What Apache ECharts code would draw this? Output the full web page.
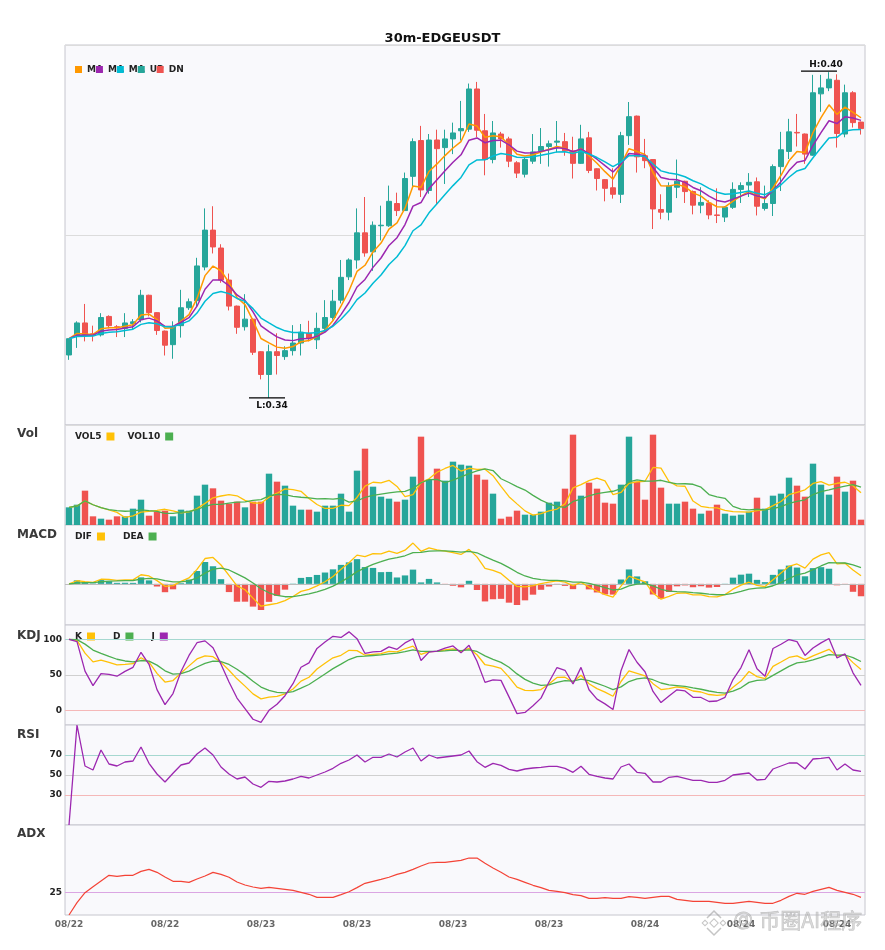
<!DOCTYPE html>
<html><head><meta charset="utf-8">
<script src="https://cdn.jsdelivr.net/npm/echarts@6/dist/echarts.min.js"></script>
<style>html,body{margin:0;padding:0;background:#fff}#c{width:885px;height:950px}</style>
</head><body><div id="c"></div>
<script>
// ---------- data ----------
const categories = (function(){
  const out=[]; const pad=n=>String(n).padStart(2,'0');
  let d=new Date(2024,7,22,14,0);
  for(let i=0;i<100;i++){ out.push(pad(d.getMonth()+1)+'/'+pad(d.getDate())+' '+pad(d.getHours())+':'+pad(d.getMinutes())); d=new Date(d.getTime()+30*60000); }
  return out;
})();
const opens = [0.3479,0.3516,0.3538,0.3518,0.3516,0.3550,0.3531,0.3528,0.3537,0.3544,
0.3589,0.3557,0.3523,0.3498,0.3533,0.3566,0.3579,0.3641,0.3709,0.3676,
0.3617,0.3569,0.3531,0.3545,0.3485,0.3443,0.3485,0.3476,0.3487,0.3501,
0.3519,0.3507,0.3528,0.3548,0.3580,0.3623,0.3654,0.3704,0.3669,0.3717,
0.3717,0.3758,0.3745,0.3808,0.3874,0.3782,0.3875,0.3861,0.3877,0.3892,
0.3895,0.3969,0.3892,0.3839,0.3886,0.3877,0.3833,0.3812,0.3836,0.3855,
0.3863,0.3871,0.3872,0.3855,0.3832,0.3879,0.3822,0.3802,0.3787,0.3775,
0.3883,0.3919,0.3846,0.3839,0.3747,0.3742,0.3788,0.3799,0.3780,0.3755,
0.3759,0.3737,0.3733,0.3751,0.3784,0.3792,0.3798,0.3749,0.3758,0.3826,
0.3854,0.3889,0.3886,0.3847,0.3960,0.3971,0.3985,0.3886,0.3962,0.3908];
const closes = [0.3509,0.3538,0.3516,0.3515,0.3548,0.3533,0.3529,0.3538,0.3540,0.3589,
0.3557,0.3524,0.3497,0.3531,0.3566,0.3577,0.3643,0.3709,0.3678,0.3617,
0.3569,0.3530,0.3545,0.3484,0.3443,0.3485,0.3478,0.3487,0.3501,0.3521,
0.3510,0.3528,0.3548,0.3578,0.3622,0.3654,0.3704,0.3667,0.3718,0.3718,
0.3762,0.3745,0.3804,0.3872,0.3783,0.3875,0.3859,0.3877,0.3888,0.3896,
0.3969,0.3893,0.3839,0.3888,0.3877,0.3836,0.3814,0.3839,0.3853,0.3863,
0.3868,0.3873,0.3855,0.3832,0.3877,0.3819,0.3804,0.3786,0.3775,0.3883,
0.3918,0.3844,0.3837,0.3748,0.3742,0.3790,0.3799,0.3780,0.3755,0.3760,
0.3737,0.3736,0.3751,0.3784,0.3791,0.3797,0.3753,0.3758,0.3826,0.3857,
0.3890,0.3888,0.3849,0.3962,0.3971,0.3987,0.3887,0.3962,0.3907,0.3896];
const lows = [0.3470,0.3492,0.3504,0.3504,0.3513,0.3528,0.3512,0.3512,0.3525,0.3539,
0.3550,0.3516,0.3478,0.3472,0.3511,0.3562,0.3568,0.3635,0.3666,0.3612,
0.3561,0.3518,0.3524,0.3479,0.3434,0.3400,0.3443,0.3470,0.3478,0.3478,
0.3504,0.3490,0.3520,0.3544,0.3574,0.3617,0.3638,0.3660,0.3634,0.3690,
0.3715,0.3735,0.3745,0.3789,0.3770,0.3776,0.3757,0.3794,0.3849,0.3874,
0.3890,0.3880,0.3810,0.3832,0.3861,0.3825,0.3805,0.3806,0.3831,0.3831,
0.3826,0.3852,0.3846,0.3804,0.3831,0.3814,0.3782,0.3762,0.3767,0.3759,
0.3866,0.3815,0.3823,0.3711,0.3729,0.3727,0.3768,0.3759,0.3738,0.3740,
0.3729,0.3722,0.3724,0.3748,0.3759,0.3770,0.3736,0.3745,0.3735,0.3781,
0.3840,0.3863,0.3831,0.3846,0.3927,0.3965,0.3861,0.3880,0.3898,0.3885];
const highs = [0.3509,0.3541,0.3573,0.3533,0.3556,0.3552,0.3534,0.3556,0.3545,0.3599,
0.3590,0.3558,0.3524,0.3541,0.3599,0.3583,0.3658,0.3749,0.3753,0.3683,
0.3629,0.3570,0.3591,0.3546,0.3486,0.3498,0.3519,0.3495,0.3534,0.3536,
0.3542,0.3557,0.3580,0.3599,0.3654,0.3657,0.3749,0.3770,0.3725,0.3754,
0.3791,0.3778,0.3815,0.3878,0.3901,0.3886,0.3894,0.3894,0.3907,0.3947,
0.3979,0.3982,0.3923,0.3910,0.3890,0.3881,0.3836,0.3843,0.3886,0.3897,
0.3874,0.3910,0.3888,0.3881,0.3903,0.3890,0.3823,0.3803,0.3823,0.3890,
0.3945,0.3920,0.3877,0.3840,0.3775,0.3797,0.3839,0.3800,0.3782,0.3788,
0.3764,0.3786,0.3753,0.3797,0.3797,0.3814,0.3806,0.3791,0.3830,0.3890,
0.3914,0.3923,0.3887,0.3995,0.3995,0.4000,0.3996,0.3977,0.3965,0.3909];
const volumes = [53000,61000,103000,26000,19000,16000,26000,26000,49000,76000,
28000,40000,43000,26000,46000,43000,88000,121000,110000,73000,
64000,70000,53000,70000,70000,154000,130000,118000,58000,46000,
46000,40000,58000,58000,94000,40000,163000,229000,115000,85000,
79000,70000,76000,145000,265000,136000,169000,133000,190000,181000,
178000,151000,136000,94000,19000,25000,43000,31000,31000,40000,
67000,70000,109000,271000,88000,127000,109000,67000,64000,121000,
265000,130000,76000,271000,112000,64000,64000,70000,49000,34000,
43000,61000,34000,28000,31000,40000,82000,49000,88000,94000,
142000,118000,85000,184000,121000,91000,145000,100000,133000,16000];
const rsiValues = [0,100,59,55,75,61,59,63,64,78,
61.7,51,43,51.7,60,62,71,77,70,58,
51,46,48,41,37.7,43.7,43,44,46,48.7,
47,50,53,56.7,61.7,65,70,63,67.7,67.7,
71,68,73,77,64,70,67,68,69,70,
74,63.3,57.7,61.7,59.7,55.7,54,56,57,57.7,
58.7,58.7,56.7,52.7,58.7,50.7,48.7,47,46,58,
61,52.7,51.7,43,43,47.7,48.7,46.7,44.7,44.7,
42.7,42.7,44.7,50,51,52,45,45.7,56,59,
62,62,56,66,66.7,67.7,55,61,55,53.7];
const adxValues = [0,13.7,24.8,31.5,37.8,44.1,43.0,44.1,44.1,48.5,
50.7,47.4,42.2,37.4,37.4,36.3,40.0,43.3,47.4,45.2,
41.9,36.7,33.3,31.1,29.6,30.7,29.6,28.5,27.4,25.2,
23.0,19.6,19.6,19.6,22.6,25.9,30.4,35.2,37.4,39.6,
41.9,45.2,47.4,50.7,54.4,57.8,58.5,58.5,59.6,60.7,
63.3,63.3,57.4,52.2,47.4,42.2,39.6,36.3,33.0,30.4,
27.4,26.3,24.8,22.6,21.5,18.5,18.5,19.3,18.5,18.5,
20.4,19.6,18.5,19.6,20.7,20.7,17.4,16.3,15.2,15.2,
15.2,14.1,13.0,13.0,14.1,15.2,14.1,13.0,13.0,16.3,
20.7,24.1,23.0,26.3,28.5,30.7,27.4,25.2,23.0,19.6];
const kdjTicks = [0,50,100];
const rsiTicks = [30,50,70];
const adxTicks = [25];

// ---------- indicator helpers (derived from the arrays above) ----------
function ema(arr,n){const a=2/(n+1);let e=arr[0];return arr.map((v,i)=>{e=i===0?v:e+a*(v-e);return e;});}
function sma(arr,n){return arr.map((v,i)=>{const s=Math.max(0,i-n+1);let t=0;for(let j=s;j<=i;j++)t+=arr[j];return t/(i-s+1);});}
const ma5=ema(closes,5), ma8=ema(closes,8), ma13=ema(closes,13);
const vol5=sma(volumes,5), vol10=sma(volumes,10);
const eFast=ema(closes,5), eSlow=ema(closes,10);
const dif=eFast.map((v,i)=>v-eSlow[i]); const dea=ema(dif,7); const hist=dif.map((v,i)=>1.5*(v-dea[i]));
const K=[],D=[],J=[];
closes.forEach((c,i)=>{const s=Math.max(0,i-8);let hh=-1,ll=9;for(let j=s;j<=i;j++){hh=Math.max(hh,highs[j]);ll=Math.min(ll,lows[j]);}
  const rsv=hh>ll?(c-ll)/(hh-ll)*100:50;
  const k=i===0?rsv:(2*K[i-1]+rsv)/3; const d=i===0?k:(2*D[i-1]+k)/3;
  K.push(k);D.push(d);J.push(3*k-2*d);});
let hiIdx=0,loIdx=0;highs.forEach((h,i)=>{if(h>highs[hiIdx])hiIdx=i;});lows.forEach((l,i)=>{if(l<lows[loIdx])loIdx=i;});

const UP='#26a69a', DN='#ef5350';
const FONT='DejaVu Sans';
const tops=[45,425,525,625,725,825], heights=[380,100,100,100,100,90];
const grid=tops.map((t,i)=>({left:65,right:20,top:t,height:heights[i],show:true,backgroundColor:'#f9f9fc',borderColor:'#c6c6ce',borderWidth:1}));
const xAxis=tops.map((t,i)=>({type:'category',gridIndex:i,data:categories,boundaryGap:true,
  axisLine:{show:false},axisTick:{show:false},splitLine:{show:false},
  axisLabel:i===5?{show:true,interval:11,formatter:v=>v.slice(0,5),color:'#666',fontWeight:'bold',fontSize:9,margin:5,fontFamily:FONT}:{show:false}}));
const lab={color:'#222',fontWeight:'bold',fontSize:9,fontFamily:FONT,margin:3};
const yAxis=[
  {gridIndex:0,min:0.335,max:0.405,interval:0.035,axisLabel:{show:false},axisLine:{show:false},axisTick:{show:false},splitLine:{show:true,lineStyle:{color:'#dcdcdc'}}},
  {gridIndex:1,min:0,max:300000,axisLabel:{show:false},axisLine:{show:false},axisTick:{show:false},splitLine:{show:false}},
  {gridIndex:2,min:-0.0058,max:0.0083,axisLabel:{show:false},axisLine:{show:false},axisTick:{show:false},splitLine:{show:false}},
  {gridIndex:3,min:-20,max:120,axisLabel:Object.assign({customValues:kdjTicks},lab),axisLine:{show:false},axisTick:{show:false},splitLine:{show:false}},
  {gridIndex:4,min:0,max:100,axisLabel:Object.assign({customValues:rsiTicks},lab),axisLine:{show:false},axisTick:{show:false},splitLine:{show:false}},
  {gridIndex:5,min:0,max:100,axisLabel:Object.assign({customValues:adxTicks},lab),axisLine:{show:false},axisTick:{show:false},splitLine:{show:false}}
];
function line(name,data,color,xi,w,extra){return Object.assign({name,type:'line',data,xAxisIndex:xi,yAxisIndex:xi,showSymbol:false,symbol:'none',
  lineStyle:{color,width:w||1.3},itemStyle:{color},z:5,silent:true},extra||{});}
function mline(vals){return {silent:true,symbol:'none',label:{show:false},data:vals.map(v=>({yAxis:v[0],lineStyle:{color:v[1],type:'solid',width:1}}))};}
const series=[
  {name:'kline',type:'candlestick',xAxisIndex:0,yAxisIndex:0,barWidth:6,
   data:opens.map((o,i)=>[o,closes[i],lows[i],highs[i]]),
   itemStyle:{color:UP,color0:DN,borderColor:UP,borderColor0:DN,borderWidth:1}},
  line('MA5',ma5,'#ff9800',0,1.5),
  line('MA8',ma8,'#9c27b0',0,1.5),
  line('MA13',ma13,'#00bcd4',0,1.5),
  {name:'UP',type:'bar',data:[],xAxisIndex:0,yAxisIndex:0,itemStyle:{color:UP}},
  {name:'DN',type:'bar',data:[],xAxisIndex:0,yAxisIndex:0,itemStyle:{color:DN}},
  {name:'hl',type:'custom',xAxisIndex:0,yAxisIndex:0,clip:false,z:10,silent:true,
   data:[[hiIdx,highs[hiIdx],1],[loIdx,lows[loIdx],0]],
   renderItem:function(params,api){const isH=api.value(2)===1;const p=api.coord([api.value(0),api.value(1)]);
     const txt=(isH?'H:':'L:')+api.value(1).toFixed(2);
     const x1=isH?p[0]-28:p[0]-20, x2=isH?p[0]+8:p[0]+16, y=isH?p[1]-1:p[1];
     return {type:'group',children:[
       {type:'line',shape:{x1:x1,y1:y,x2:x2,y2:y},style:{stroke:'#000',lineWidth:1.2}},
       {type:'text',x:isH?p[0]-3:p[0]+3,y:isH?y-2:y+3,style:{text:txt,fontSize:9,fontWeight:'bold',fontFamily:FONT,fill:'#111',align:'center',verticalAlign:isH?'bottom':'top'}}]};}},
  {name:'vol',type:'bar',xAxisIndex:1,yAxisIndex:1,barWidth:6.4,silent:true,
   data:volumes.map((v,i)=>({value:v,itemStyle:{color:closes[i]>=opens[i]?UP:DN}}))},
  line('VOL5',vol5,'#ffc107',1,1.3),
  line('VOL10',vol10,'#4caf50',1,1.3),
  {name:'macd',type:'bar',xAxisIndex:2,yAxisIndex:2,barWidth:6.4,silent:true,
   data:hist.map(v=>({value:v,itemStyle:{color:v>=0?UP:DN}}))},
  line('DIF',dif,'#ffc107',2,1.3,{markLine:mline([[0,'#bdbdbd']])}),
  line('DEA',dea,'#4caf50',2,1.3),
  line('K',K,'#ffc107',3,1.3,{markLine:mline([[100,'#a6d8d0'],[50,'#d0d0d0'],[0,'#f5b8b8']])}),
  line('D',D,'#4caf50',3,1.3),
  line('J',J,'#9c27b0',3,1.3),
  line('RSI',rsiValues,'#9c27b0',4,1.3,{markLine:mline([[70,'#a6d8d0'],[50,'#d0d0d0'],[30,'#f5b8b8']])}),
  line('ADX',adxValues,'#f44336',5,1.2,{markLine:mline([[25,'#dba6e3']])})
];
const legTxt={fontSize:9,fontWeight:'bold',color:'#222',fontFamily:FONT};
const tr={overflow:'truncate',ellipsis:''};
const legend=[
  {left:70,top:60,icon:'rect',itemWidth:7,itemHeight:7,itemGap:-7,selectedMode:false,
   textStyle:Object.assign({width:20},tr,legTxt),
   data:[{name:'MA5'},{name:'MA8'},{name:'MA13',textStyle:Object.assign({width:23},tr)},{name:'UP',textStyle:{width:27}},{name:'DN',textStyle:{width:20}}]},
  {left:70,top:427,icon:'rect',align:'right',itemWidth:8,itemHeight:8,itemGap:13,selectedMode:false,textStyle:Object.assign({width:30},legTxt),data:['VOL5','VOL10']},
  {left:70,top:527,icon:'rect',align:'right',itemWidth:8,itemHeight:8,itemGap:18,selectedMode:false,textStyle:Object.assign({width:22},legTxt),data:['DIF','DEA']},
  {left:70,top:627,icon:'rect',align:'right',itemWidth:8,itemHeight:8,itemGap:18,selectedMode:false,textStyle:Object.assign({width:12},legTxt),data:['K','D','J']}
];
const panelNames=[['Vol',434],['MACD',535],['KDJ',636],['RSI',735],['ADX',834]];
const wmFill='rgba(190,190,190,0.55)', wmStroke='rgba(150,150,150,0.55)';
const graphic=panelNames.map(p=>({type:'text',left:17,top:p[1]-6,style:{text:p[0],fontSize:12,fontWeight:'bold',fontFamily:FONT,fill:'#3a3a3a'}}))
 .concat([
  {type:'group',x:714,y:923,z:100,children:[
    {type:'rect',shape:{x:-3,y:-3,width:6,height:6},rotation:Math.PI/4,style:{fill:'none',stroke:wmStroke,lineWidth:1}},
    {type:'rect',x:-9,shape:{x:-2,y:-2,width:4,height:4},rotation:Math.PI/4,style:{fill:'none',stroke:wmStroke,lineWidth:1}},
    {type:'rect',x:9,shape:{x:-2,y:-2,width:4,height:4},rotation:Math.PI/4,style:{fill:'none',stroke:wmStroke,lineWidth:1}},
    {type:'polyline',shape:{points:[[-7,-5],[0,-12],[7,-5]]},style:{fill:'none',stroke:wmStroke,lineWidth:1.5}},
    {type:'polyline',shape:{points:[[-7,5],[0,12],[7,5]]},style:{fill:'none',stroke:wmStroke,lineWidth:1.5}}]},
  {type:'text',left:733,top:910,z:100,style:{text:'@',fontSize:20,fontFamily:FONT,fill:wmFill,stroke:wmStroke,lineWidth:0.6}},
  {type:'text',left:759,top:909,z:100,style:{text:'币圈AI程序',fontSize:21,fontFamily:'Noto Sans CJK SC',fill:wmFill,stroke:wmStroke,lineWidth:0.6}}
 ]);
const chart=echarts.init(document.getElementById('c'));
chart.setOption({animation:false,backgroundColor:'#fff',textStyle:{fontFamily:FONT},
  title:{text:'30m-EDGEUSDT',left:'center',top:27,textStyle:{fontSize:13,fontWeight:'bold',color:'#111',fontFamily:FONT}},
  legend,grid,xAxis,yAxis,series,graphic});
</script></body></html>
